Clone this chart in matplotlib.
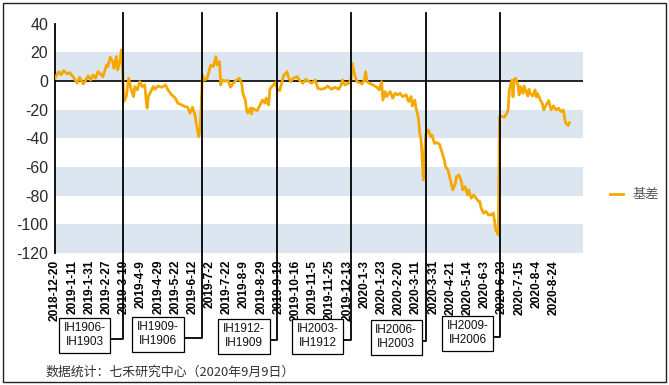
import matplotlib
matplotlib.use("Agg")
import matplotlib.pyplot as plt
from matplotlib.transforms import blended_transform_factory
from matplotlib.patches import Rectangle

# ---------------- data ----------------
tick_labels = ["2018-12-20", "2019-1-11", "2019-1-31", "2019-2-27", "2019-3-19", "2019-4-9",
               "2019-4-29", "2019-5-22", "2019-6-12", "2019-7-2", "2019-7-22", "2019-8-9",
               "2019-8-29", "2019-9-19", "2019-10-16", "2019-11-5", "2019-11-25", "2019-12-13",
               "2020-1-3", "2020-1-23", "2020-2-20", "2020-3-11", "2020-3-31", "2020-4-21",
               "2020-5-14", "2020-6-3", "2020-6-23", "2020-7-15", "2020-8-4", "2020-8-24"]
tick_step = 14  # trading days between labels

days = [0, 3, 5, 7, 10, 12, 15, 18, 20, 23, 25, 27, 29, 31, 33, 35, 37, 39, 42, 43,
        45, 47, 48, 50, 51, 53, 54, 55, 56, 58, 60, 62, 64, 65, 67, 69, 71, 73, 75, 76,
        78, 80, 81, 84, 87, 90, 92, 95, 98, 100, 103, 106, 108, 110, 112, 114, 115, 117, 118, 119,
        120, 122, 124, 126, 127, 129, 131, 132, 134, 135, 136, 138, 141, 143, 145, 148, 150, 152, 153, 155,
        156, 157, 159, 160, 161, 164, 165, 167, 169, 171, 172, 174, 175, 176, 178, 180, 181, 183, 185, 186,
        189, 190, 192, 194, 197, 199, 202, 204, 206, 209, 212, 214, 217, 220, 222, 225, 228, 231, 233, 234,
        236, 239, 241, 242, 244, 246, 248, 250, 252, 253, 254, 256, 259, 262, 264, 266, 267, 269, 270, 273,
        275, 277, 279, 281, 283, 286, 288, 290, 291, 293, 294, 296, 297, 298, 299, 300, 301, 302, 304, 306,
        307, 309, 311, 313, 315, 317, 318, 320, 322, 324, 326, 327, 329, 331, 332, 334, 336, 337, 339, 341,
        343, 345, 346, 347, 349, 351, 353, 355, 357, 358, 359, 361, 362, 364, 366, 368, 369, 370, 371, 372,
        373, 374, 375, 377, 378, 379, 381, 382, 383, 385, 386, 387, 389, 391, 392, 393, 395, 397, 398, 400,
        402, 404, 406, 408, 410, 412, 414, 415, 416, 418, 419]

basis = [1.9, 6.5, 4.2, 7.2, 4.9, 5.8, 2.6, -1.6, 2.6, -2.1, 0.7, 3.5, 0.7, 4.2, 1.9, 6.5, 4.9, 3.0, 11.1, 10.0,
         16.5, 13.5, 8.8, 17.0, 7.7, 14.2, 21.6, 10.0, -14.4, -10.9, 1.9, -5.8, -10.9, -3.9, -6.2, -0.5, -3.9, -2.8, -19.0, -10.9,
         -7.4, -3.9, -5.8, -3.5, -4.4, -2.8, -6.2, -9.7, -12.0, -15.5, -16.7, -17.9, -18.3, -22.5, -18.3, -23.7, -29.5, -38.8, -35.3, -19.9,
         4.2, 0.7, 1.9, 8.8, 11.1, 10.0, 17.0, 11.1, 13.5, -2.8, 0.7, 0.0, 0.2, -4.4, -1.6, 0.7, 1.9, -1.6, -8.6, -13.3,
         -20.2, -22.5, -19.0, -23.0, -19.0, -20.6, -20.2, -16.7, -13.3, -15.5, -12.0, -16.7, -5.8, -4.4, -2.8, -0.5, -5.8, -6.7, -0.5, 3.5,
         6.5, 3.0, -0.5, 1.9, 3.0, 0.7, -1.6, 1.2, 0.0, -1.6, 0.7, -5.1, -5.8, -5.1, -3.5, -5.8, -4.4, -5.8, -2.8, 0.7,
         -2.8, -1.6, 0.7, 12.3, 4.2, -0.5, -1.2, -2.1, 0.7, 6.5, -0.5, -1.6, -2.8, -4.4, -6.2, -0.5, -13.3, -7.4, -10.9, -7.4,
         -12.0, -8.6, -9.7, -8.6, -10.9, -9.7, -14.4, -10.9, -17.4, -13.3, -19.0, -26.0, -36.5, -40.0, -52.7, -69.0, -50.0, -37.0, -34.2, -38.8,
         -37.7, -43.5, -43.0, -44.0, -49.3, -55.0, -59.7, -62.0, -69.0, -76.0, -71.4, -66.7, -65.6, -70.2, -76.0, -73.7, -79.5, -76.0, -81.8, -79.5,
         -81.8, -84.1, -84.1, -88.7, -92.2, -91.0, -93.4, -93.4, -92.2, -98.1, -103.9, -107.4, -24.9, -24.6, -25.3, -22.5, -20.2, -6.3, -2.8, 0.5,
         -11.0, 0.9, 1.9, -2.8, -9.7, -3.9, -8.6, -3.5, -6.2, -10.5, -5.8, -8.6, -10.5, -6.2, -11.2, -8.8, -12.8, -16.1, -20.2, -16.7,
         -13.7, -20.2, -17.4, -20.2, -19.0, -21.4, -20.2, -26.0, -29.5, -31.1, -29.2]

assert len(days) == len(basis)

roll_days = [55, 120, 181, 241, 302, 362]
roll_labels = ["IH1906-\nIH1903", "IH1909-\nIH1906", "IH1912-\nIH1909",
               "IH2003-\nIH1912", "IH2006-\nIH2003", "IH2009-\nIH2006"]
series_name = "基差"
source_text = "数据统计：七禾研究中心（2020年9月9日）"

# ---------------- style ----------------
W, H = 669, 385
plt.rcParams['axes.unicode_minus'] = False
plt.rcParams['font.family'] = ['Liberation Sans', 'Noto Sans CJK SC', 'DejaVu Sans']
fig = plt.figure(figsize=(W / 100, H / 100), dpi=100)

ax = fig.add_axes([55 / W, 1 - 253 / H, 528 / W, (253 - 23.6) / H])
ax.set_xlim(0, 430)
ax.set_ylim(-120, 40)

band_color = '#DCE6F1'
for lo, hi in [(0, 20), (-40, -20), (-80, -60), (-120, -100)]:
    ax.axhspan(lo, hi, color=band_color, lw=0, zorder=0)
ax.axhline(0, color='black', lw=1.2, zorder=2)

ax.plot(days, basis, color='#F5A800', lw=2.0, zorder=3, label=series_name,
        solid_joinstyle='round')

for s in ['top', 'right', 'bottom']:
    ax.spines[s].set_visible(False)
ax.spines['left'].set_color('black')
ax.spines['left'].set_linewidth(1.3)

ax.set_yticks(range(-120, 41, 20))
ax.tick_params(axis='y', length=0, pad=5, labelsize=11.5, labelcolor='#2a2a2a')
ax.set_xticks([i * tick_step for i in range(len(tick_labels))])
ax.set_xticklabels(tick_labels, rotation=90, fontsize=8.6, fontweight='bold')
ax.tick_params(axis='x', length=0, pad=5, labelcolor='black')

# roll annotations
tr = blended_transform_factory(ax.transData, fig.transFigure)
box_offset = [-31, -36, -27, -27, -24, -26]       # box centre relative to roll line (days)
conn_py = [339, 338, 340, 340, 341, 337]          # connector height (pixels from top)
half_w = 18.3                                      # half box width in days
top_y = 1 - 13 / H
for d, lab, off, cy in zip(roll_days, roll_labels, box_offset, conn_py):
    yf = 1 - cy / H
    ax.plot([d, d, d + off + half_w], [top_y, yf, yf], transform=tr, color='black',
            lw=1.3, clip_on=False, zorder=5)
    ax.text(d + off, yf + 0.01, lab, transform=tr, ha='center', va='center',
            fontsize=8.5, color='#111111', linespacing=1.15, zorder=6,
            bbox=dict(boxstyle='square,pad=0.4', fc='white', ec='black', lw=0.9))

# legend
fig.legend(loc='center left', bbox_to_anchor=(598 / W, 1 - 195 / H), frameon=False,
           handlelength=1.0, handletextpad=0.7, labelcolor='#595959',
           prop={'family': ['Noto Sans CJK SC', 'DejaVu Sans'], 'size': 9.5})

# source note
fig.text(45 / W, 1 - 372 / H, source_text, ha='left', va='center', fontsize=9.3,
         color='#333333', family=['Noto Sans CJK SC', 'DejaVu Sans'])

# outer frame
fig.patches.append(Rectangle((2.5 / W, 3 / H), 663.5 / W, 379 / H, transform=fig.transFigure,
                             fill=False, ec='#222222', lw=1.0))

fig.savefig('out.png', dpi=100)
